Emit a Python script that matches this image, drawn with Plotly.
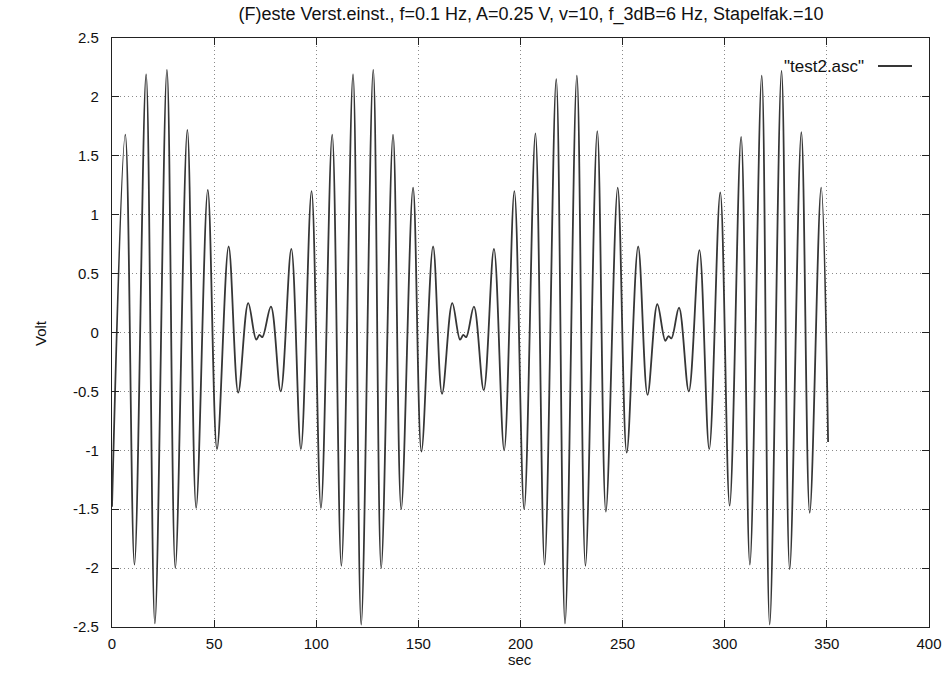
import plotly.graph_objects as go

# Extrema (time in sec, value in Volt), in time order
t_sec = [
    0.0, 6.5, 11.0, 16.7, 21.0, 26.9, 31.0, 36.9, 41.2, 46.9, 51.4, 57.1, 61.8,
    66.7, 70.6, 72.2, 73.6, 77.8, 82.6, 87.8, 92.5, 97.7, 102.3, 107.8, 112.3,
    118.0, 122.0, 127.9, 131.8, 137.6, 141.6, 147.4, 151.5, 157.2, 161.6,
    166.6, 170.4, 172.0, 173.4, 177.2, 182.0, 187.0, 192.0, 197.0, 201.8,
    207.3, 211.8, 217.5, 221.8, 227.6, 231.8, 237.6, 241.8, 247.6, 252.0,
    257.6, 262.2, 267.0, 270.9, 272.5, 273.9, 277.6, 282.4, 287.6, 292.4,
    297.8, 302.4, 308.0, 312.3, 318.1, 322.0, 327.8, 331.8, 337.5, 341.6,
    347.2, 350.6,
]
volt = [
    -1.48, 1.68, -1.97, 2.19, -2.47, 2.23, -2.00, 1.72, -1.49, 1.21, -0.99, 0.73, -0.51,
    0.25, -0.06, -0.02, -0.04, 0.22, -0.50, 0.71, -0.99, 1.20, -1.49, 1.68, -1.98,
    2.19, -2.48, 2.23, -2.00, 1.68, -1.50, 1.23, -1.01, 0.73, -0.52,
    0.25, -0.06, -0.02, -0.04, 0.22, -0.49, 0.71, -1.00, 1.20, -1.50,
    1.69, -1.97, 2.15, -2.47, 2.18, -1.98, 1.71, -1.52, 1.23, -1.02,
    0.73, -0.53, 0.24, -0.07, -0.03, -0.05, 0.21, -0.50, 0.70, -0.99,
    1.19, -1.47, 1.66, -1.97, 2.18, -2.48, 2.22, -2.01, 1.70, -1.53,
    1.23, -0.93,
]

x_ticks = [0, 50, 100, 150, 200, 250, 300, 350, 400]
x_tick_text = ["0", "50", "100", "150", "200", "250", "300", "350", "400"]
y_ticks = [-2.5, -2, -1.5, -1, -0.5, 0, 0.5, 1, 1.5, 2, 2.5]
y_tick_text = ["-2.5", "-2", "-1.5", "-1", "-0.5", "0", "0.5", "1", "1.5", "2", "2.5"]

title_text = "(F)este Verst.einst., f=0.1 Hz, A=0.25 V, v=10, f_3dB=6 Hz, Stapelfak.=10"
legend_text = '"test2.asc"'
x_title = "sec"
y_title = "Volt"

FONT = "Liberation Sans, Arial, Helvetica, sans-serif"
INK = "#111111"
W, H = 946, 678
L, R, T, B = 112, 929, 38, 627
pw, ph = R - L, B - T


def px_x(px):
    return (px - L) / pw


def px_y(py):
    return (B - py) / ph


fig = go.Figure()
fig.add_trace(go.Scatter(
    x=t_sec, y=volt, mode="lines",
    line=dict(color="#363636", width=1.8, shape="spline", smoothing=1.0),
    showlegend=False, hoverinfo="x+y",
))

axis_common = dict(
    showline=True, linecolor="#222222", linewidth=1.3, mirror="ticks",
    ticks="inside", ticklen=7, tickcolor="#222222", tickwidth=1,
    showgrid=True, gridcolor="#8a8a8a", gridwidth=1, griddash="1px,3px",
    zeroline=False, automargin=False,
    tickfont=dict(family=FONT, size=15, color=INK),
)

fig.update_xaxes(range=[0, 400], tickmode="array", tickvals=x_ticks,
                 ticktext=x_tick_text, ticklabelstandoff=3, **axis_common)
fig.update_yaxes(range=[-2.5, 2.5], tickmode="array", tickvals=y_ticks,
                 ticktext=y_tick_text, ticklabelstandoff=9, **axis_common)

# axis titles
fig.add_annotation(x=px_x(520), y=px_y(659), xref="paper", yref="paper", text=x_title,
                   showarrow=False, xanchor="center", yanchor="middle",
                   font=dict(family=FONT, size=15, color=INK))
fig.add_annotation(x=px_x(40), y=px_y(333), xref="paper", yref="paper", text=y_title,
                   showarrow=False, xanchor="center", yanchor="middle", textangle=-90,
                   font=dict(family=FONT, size=15, color=INK))

# legend (gnuplot style: text, then line sample)
ly = px_y(66)
fig.add_annotation(x=px_x(866), y=ly, xref="paper", yref="paper", text=legend_text,
                   showarrow=False, xanchor="right", yanchor="middle",
                   font=dict(family=FONT, size=17, color=INK))
fig.add_shape(type="line", xref="paper", yref="paper", x0=px_x(878), x1=px_x(912),
              y0=ly, y1=ly, line=dict(color="#363636", width=1.8))

fig.update_layout(
    width=W, height=H,
    margin=dict(l=L, r=W - R, t=T, b=H - B, pad=0, autoexpand=False),
    paper_bgcolor="white", plot_bgcolor="white",
    title=dict(text=title_text, x=531 / W, xanchor="center", xref="container",
               y=1 - 14 / H, yanchor="middle",
               font=dict(family=FONT, size=18, color=INK)),
    font=dict(family=FONT, size=15, color=INK),
)

fig.write_html("out.html", config={"displayModeBar": False},
               post_script="document.body.style.margin='0';document.body.style.padding='0';")
